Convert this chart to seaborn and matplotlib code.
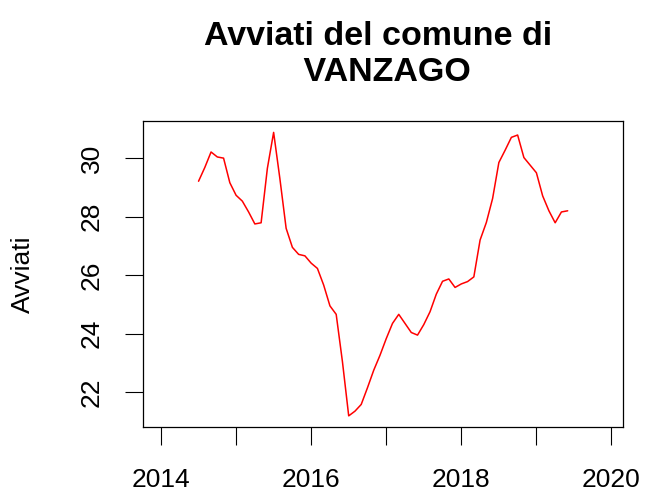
import numpy as np
import pandas as pd
import matplotlib
matplotlib.use("Agg")
import matplotlib.pyplot as plt
import seaborn as sns

# monthly series, July 2014 .. June 2019
start_year = 2014.5
avviati = [
    29.21, 29.68, 30.21, 30.04, 30.00, 29.16, 28.73, 28.53, 28.16, 27.75,
    27.79, 29.65, 30.88, 29.30, 27.60, 26.95, 26.71, 26.66, 26.41, 26.23,
    25.66, 24.95, 24.66, 23.04, 21.19, 21.35, 21.58, 22.15, 22.75, 23.26,
    23.83, 24.35, 24.66, 24.35, 24.04, 23.95, 24.31, 24.75, 25.35, 25.79,
    25.87, 25.58, 25.70, 25.78, 25.94, 27.20, 27.80, 28.62, 29.85, 30.27,
    30.71, 30.79, 30.02, 29.76, 29.50, 28.71, 28.20, 27.79, 28.16, 28.20,
]
x_ticks = [2014, 2015, 2016, 2017, 2018, 2019, 2020]
x_ticklabels = ["2014", "", "2016", "", "2018", "", "2020"]
y_ticks = [22, 24, 26, 28, 30]

df = pd.DataFrame({
    "time": start_year + np.arange(len(avviati)) / 12,
    "avviati": avviati,
})

sns.set_theme(style="ticks")
plt.rcParams["font.family"] = ["Liberation Sans", "DejaVu Sans"]

fig = plt.figure(figsize=(6.47, 4.91), dpi=100)
ax = fig.add_axes([0.221, 0.131, 0.7415, 0.6226])

sns.lineplot(data=df, x="time", y="avviati", color="red", linewidth=1.1, ax=ax)

ax.set_xlim(2013.76, 2020.15)
ax.set_ylim(20.82, 31.27)
ax.set_xticks(x_ticks)
ax.set_xticklabels(x_ticklabels)
ax.set_yticks(y_ticks)
ax.set_yticklabels([str(v) for v in y_ticks], rotation=90, va="center")

for side in ["left", "right", "top", "bottom"]:
    ax.spines[side].set_visible(True)
    ax.spines[side].set_color("black")
    ax.spines[side].set_linewidth(0.9)

ax.tick_params(axis="x", length=13, width=0.8, color="black", pad=16.5,
               labelsize=19, labelcolor="black")
ax.tick_params(axis="y", length=13, width=0.8, color="black", pad=15,
               labelsize=19, labelcolor="black")

ax.set_xlabel("")
ax.set_ylabel("Avviati", fontsize=19, color="black")
ax.yaxis.set_label_coords(-0.225, 0.5)

ax.set_title("Avviati del comune di \n VANZAGO", fontsize=24.5,
             fontweight="bold", linespacing=1.2, pad=29, color="black")

fig.savefig("out.png", dpi=100)
